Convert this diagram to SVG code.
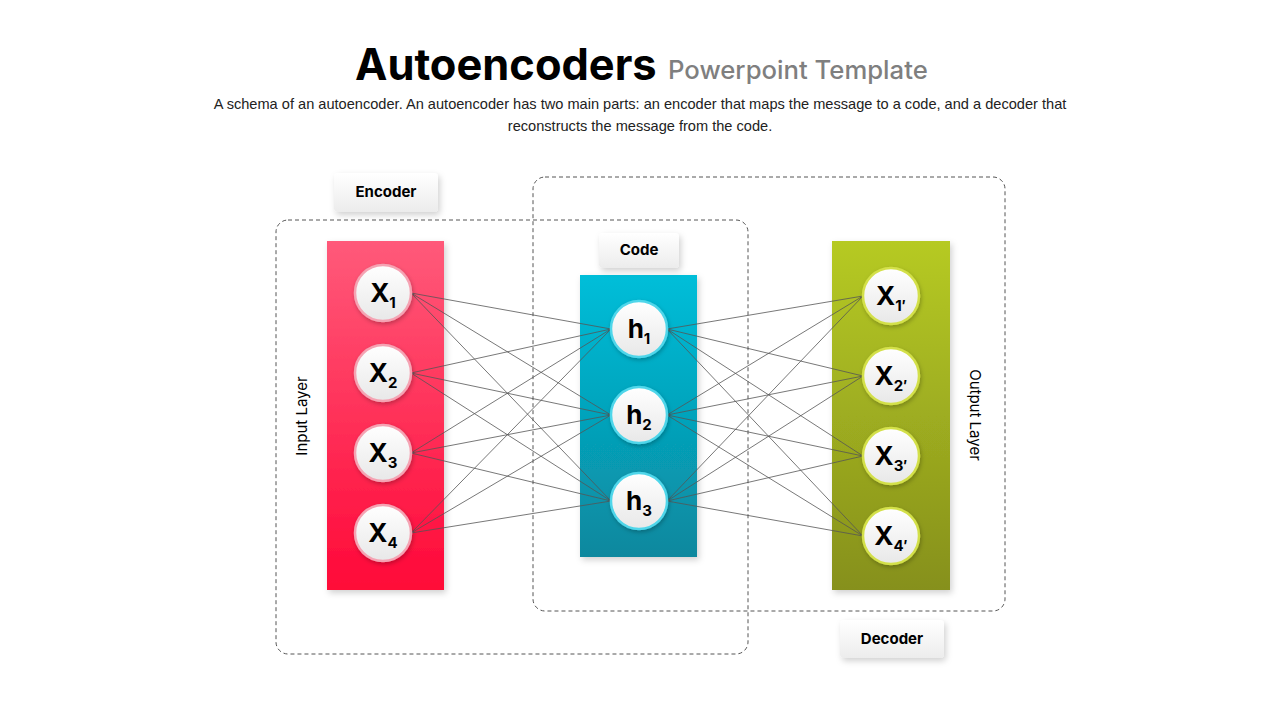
<svg xmlns="http://www.w3.org/2000/svg" width="1280" height="720" viewBox="0 0 1280 720">
<defs>
<linearGradient id="gRed" x1="0" y1="0" x2="0" y2="1"><stop offset="0" stop-color="#ff5a7a"/><stop offset="1" stop-color="#ff0838"/></linearGradient>
<linearGradient id="gBlue" x1="0" y1="0" x2="0" y2="1"><stop offset="0" stop-color="#00bed9"/><stop offset="1" stop-color="#0a889e"/></linearGradient>
<linearGradient id="gGreen" x1="0" y1="0" x2="0" y2="1"><stop offset="0" stop-color="#b6ca24"/><stop offset="1" stop-color="#86901c"/></linearGradient>
<linearGradient id="gNode" x1="0" y1="0" x2="0" y2="1"><stop offset="0" stop-color="#ffffff"/><stop offset="1" stop-color="#e8e8e8"/></linearGradient>
<linearGradient id="gLabel" x1="0" y1="0" x2="0" y2="1"><stop offset="0" stop-color="#ffffff"/><stop offset="1" stop-color="#ececec"/></linearGradient>
<filter id="sh" x="-30%" y="-30%" width="160%" height="160%"><feDropShadow dx="2" dy="3" stdDeviation="3" flood-color="#000" flood-opacity="0.18"/></filter>
<filter id="shn" x="-30%" y="-30%" width="160%" height="160%"><feDropShadow dx="1" dy="2" stdDeviation="2" flood-color="#000" flood-opacity="0.25"/></filter>
</defs>
<style>
.title{font-family:Inter,"Liberation Sans",sans-serif;font-weight:700;font-size:43.4px;fill:#000}
.sub{font-family:Inter,"Liberation Sans",sans-serif;font-weight:500;font-size:25.7px;fill:#7f7f7f}
.desc{font-family:"Liberation Sans",Arial,sans-serif;font-size:14.6px;fill:#222}
.dash{fill:none;stroke:#555;stroke-width:1;stroke-dasharray:4 3}
.lbl{fill:url(#gLabel);filter:url(#sh)}
.lbltxt{font-family:Inter,"Liberation Sans",sans-serif;font-weight:700;font-size:15px;fill:#000;text-anchor:middle}
.side{font-family:Inter,"Liberation Sans",sans-serif;font-size:15px;fill:#000;text-anchor:middle}
.node{fill:url(#gNode);stroke-width:2.5;filter:url(#shn)}
.nt{font-family:Inter,"Liberation Sans",sans-serif;font-weight:700;font-size:26px;fill:#000;text-anchor:middle}
.ns{font-size:15px}
.conn line{stroke:#555;stroke-width:0.8}
</style>
<rect width="1280" height="720" fill="#fff"/>
<g id="title">
<text x="355" y="80" class="title">Autoencoders</text>
<text x="668" y="79" class="sub">Powerpoint Template</text>
<text x="640" y="109" class="desc" text-anchor="middle">A schema of an autoencoder. An autoencoder has two main parts: an encoder that maps the message to a code, and a decoder that</text>
<text x="640" y="131" class="desc" text-anchor="middle">reconstructs the message from the code.</text>
</g>
<g id="encoder-box"><rect x="276" y="220" width="472" height="434" rx="12" class="dash"/></g>
<g id="decoder-box"><rect x="533" y="177" width="472" height="434" rx="12" class="dash"/></g>
<g id="input-layer">
<rect x="327" y="241" width="117" height="349" fill="url(#gRed)" filter="url(#sh)"/>
<text transform="translate(307,416) rotate(-90)" class="side">Input Layer</text>
</g>
<g id="code-layer"><rect x="580" y="275" width="117" height="282" fill="url(#gBlue)" filter="url(#sh)"/></g>
<g id="output-layer">
<rect x="832" y="241" width="118" height="349" fill="url(#gGreen)" filter="url(#sh)"/>
<text transform="translate(970,415) rotate(90)" class="side">Output Layer</text>
</g>
<g id="connectors" class="conn">
<line x1="411" y1="293" x2="611" y2="329"/><line x1="411" y1="293" x2="611" y2="415"/><line x1="411" y1="293" x2="611" y2="501"/>
<line x1="411" y1="373" x2="611" y2="329"/><line x1="411" y1="373" x2="611" y2="415"/><line x1="411" y1="373" x2="611" y2="501"/>
<line x1="411" y1="453" x2="611" y2="329"/><line x1="411" y1="453" x2="611" y2="415"/><line x1="411" y1="453" x2="611" y2="501"/>
<line x1="411" y1="533" x2="611" y2="329"/><line x1="411" y1="533" x2="611" y2="415"/><line x1="411" y1="533" x2="611" y2="501"/>
<line x1="667" y1="329" x2="863" y2="296"/><line x1="667" y1="329" x2="863" y2="376"/><line x1="667" y1="329" x2="863" y2="456"/><line x1="667" y1="329" x2="863" y2="536"/>
<line x1="667" y1="415" x2="863" y2="296"/><line x1="667" y1="415" x2="863" y2="376"/><line x1="667" y1="415" x2="863" y2="456"/><line x1="667" y1="415" x2="863" y2="536"/>
<line x1="667" y1="501" x2="863" y2="296"/><line x1="667" y1="501" x2="863" y2="376"/><line x1="667" y1="501" x2="863" y2="456"/><line x1="667" y1="501" x2="863" y2="536"/>
</g>
<g id="x1"><circle cx="383" cy="293" r="28" class="node" stroke="#f5a3b3"/><text x="383" y="302" class="nt">X<tspan class="ns" dy="6">1</tspan></text></g>
<g id="x2"><circle cx="383" cy="373" r="28" class="node" stroke="#f5a3b3"/><text x="383" y="382" class="nt">X<tspan class="ns" dy="6">2</tspan></text></g>
<g id="x3"><circle cx="383" cy="453" r="28" class="node" stroke="#f5a3b3"/><text x="383" y="462" class="nt">X<tspan class="ns" dy="6">3</tspan></text></g>
<g id="x4"><circle cx="383" cy="533" r="28" class="node" stroke="#f5a3b3"/><text x="383" y="542" class="nt">X<tspan class="ns" dy="6">4</tspan></text></g>
<g id="h1"><circle cx="639" cy="329" r="28" class="node" stroke="#4fd6ea"/><text x="639" y="338" class="nt">h<tspan class="ns" dy="6">1</tspan></text></g>
<g id="h2"><circle cx="639" cy="415" r="28" class="node" stroke="#4fd6ea"/><text x="639" y="424" class="nt">h<tspan class="ns" dy="6">2</tspan></text></g>
<g id="h3"><circle cx="639" cy="501" r="28" class="node" stroke="#4fd6ea"/><text x="639" y="510" class="nt">h<tspan class="ns" dy="6">3</tspan></text></g>
<g id="y1"><circle cx="891" cy="296" r="28" class="node" stroke="#d3e04a"/><text x="891" y="305" class="nt">X<tspan class="ns" dy="6">1′</tspan></text></g>
<g id="y2"><circle cx="891" cy="376" r="28" class="node" stroke="#d3e04a"/><text x="891" y="385" class="nt">X<tspan class="ns" dy="6">2′</tspan></text></g>
<g id="y3"><circle cx="891" cy="456" r="28" class="node" stroke="#d3e04a"/><text x="891" y="465" class="nt">X<tspan class="ns" dy="6">3′</tspan></text></g>
<g id="y4"><circle cx="891" cy="536" r="28" class="node" stroke="#d3e04a"/><text x="891" y="545" class="nt">X<tspan class="ns" dy="6">4′</tspan></text></g>
<g id="encoder-label"><rect x="334" y="173" width="104" height="39" rx="4" class="lbl"/><text x="386" y="197" class="lbltxt">Encoder</text></g>
<g id="code-label"><rect x="599" y="233" width="80" height="35" rx="4" class="lbl"/><text x="639" y="255" class="lbltxt">Code</text></g>
<g id="decoder-label"><rect x="840" y="620" width="104" height="38" rx="4" class="lbl"/><text x="892" y="644" class="lbltxt">Decoder</text></g>
</svg>
